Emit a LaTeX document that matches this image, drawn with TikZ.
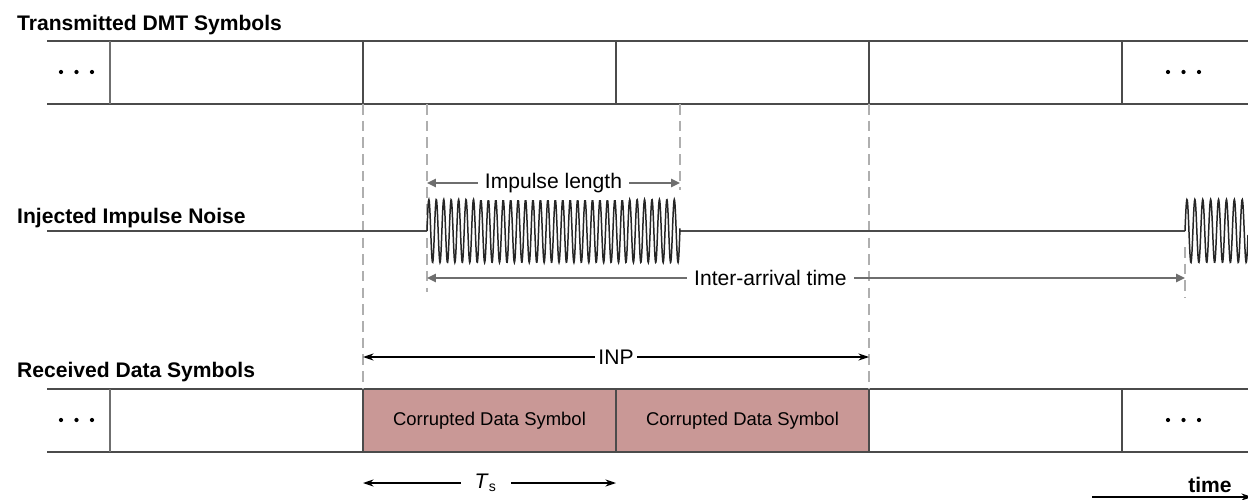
\documentclass[tikz,border=0pt]{standalone}
\usepackage{fontspec}
\setmainfont{Liberation Sans}
\usetikzlibrary{arrows.meta}
\definecolor{badsym}{RGB}{201,152,150}
\definecolor{rulec}{RGB}{75,75,75}
\definecolor{dashc}{RGB}{175,175,175}
\definecolor{garrc}{RGB}{110,110,110}
\def\trip#1#2{\foreach \d in {0,1,2}{\fill (#1+15.5*\d,#2) circle (1.2pt);}}

\begin{document}
\begin{tikzpicture}[x=0.02cm, y=-0.02cm, font=\fontsize{12}{14}\selectfont,
  rule/.style={draw=rulec, line width=1.1pt},
  thin rule/.style={draw=rulec!80, line width=0.8pt},
  guide/.style={draw=dashc, line width=1.3pt, dash pattern=on 6pt off 3.5pt},
  garrow/.style={draw=garrc, line width=1.7pt, {Triangle[length=5pt,width=4.5pt]}-{Triangle[length=5pt,width=4.5pt]}},
  karrow/.style={draw=black, line width=0.7pt, {Stealth[length=6pt,width=4pt]}-{Stealth[length=6pt,width=4pt]}},
  noise/.style={draw=black!85, line width=0.85pt},
  rowlbl/.style={anchor=west, font=\fontsize{12}{14}\selectfont\bfseries},
  gap/.style={fill=white, inner sep=4pt}]
\useasboundingbox (0,0) rectangle (1248,500);

% corrupted symbols
\fill[badsym] (363,389) rectangle (869,452);

% the two symbol rows
\foreach \y in {41,104,389,452}
  \draw[rule] (47,\y) -- (1248,\y);
\foreach \yt/\yb in {41/104,389/452}{
  \draw[thin rule] (110,\yt) -- (110,\yb);
  \foreach \x in {363,616,869,1122}
    \draw[rule] (\x,\yt) -- (\x,\yb);
}
\trip{61}{72} \trip{1168}{72}
\trip{61}{420} \trip{1168}{420}

% guides
\draw[guide] (363,104) -- (363,389);
\draw[guide] (869,104) -- (869,389);
\draw[guide] (427,104) -- (427,292);
\draw[guide] (680,104) -- (680,190);
\draw[guide] (1185,247) -- (1185,298);

% impulse noise
\coordinate (n0) at (47,231);
\coordinate (n1) at (427,231);
\coordinate (n2) at (680,231);
\coordinate (n3) at (1185,231);
\draw[rule, line width=0.9pt] (n0) -- (n1) (n2) -- (n3);
\draw[noise] plot[domain=427:680, samples=800] (\x, {231-31.5*sin((\x-427)*48.4)});
\draw[noise] plot[domain=1185:1248, samples=200] (\x, {231-31.5*sin((\x-1185)*45.6)});

% labels
\node[rowlbl] (txlbl) at (11,25) {Transmitted DMT Symbols};
\node[rowlbl] (nslbl) at (11,218) {Injected Impulse Noise};
\node[rowlbl] (rxlbl) at (11,372) {Received Data Symbols};
\node[font=\fontsize{10.5}{12}\selectfont] (cor1) at (489.5,420.5) {Corrupted Data Symbol};
\node[font=\fontsize{10.5}{12}\selectfont] (cor2) at (742.5,420.5) {Corrupted Data Symbol};

% measures
\coordinate (il1) at (427,183); \coordinate (il2) at (680,183);
\draw[garrow] (il1) -- node[gap] (iltxt) {Impulse length} (il2);
\coordinate (ia1) at (427,278); \coordinate (ia2) at (1185,278);
\draw[garrow] (ia1) -- node[gap, pos=0.453] (iatxt) {Inter-arrival time} (ia2);
\coordinate (inp1) at (363,357); \coordinate (inp2) at (869,357);
\draw[karrow] (inp1) -- node[gap, inner sep=2pt] (inptxt) {INP} (inp2);
\coordinate (ts1) at (363,483); \coordinate (ts2) at (616,483);
\draw[karrow] (ts1) -- node[gap, pos=0.485, inner sep=8pt] (tstxt) {\textit{T}\textsubscript{s}} (ts2);

% time axis
\coordinate (t1) at (1092,497); \coordinate (t2) at (1252,497);
\draw[karrow, {-Stealth[length=6pt,width=4pt]}] (t1) -- (t2);
\node[font=\fontsize{12}{14}\selectfont\bfseries] (timelbl) at (1210,485) {time};
\end{tikzpicture}
\end{document}
